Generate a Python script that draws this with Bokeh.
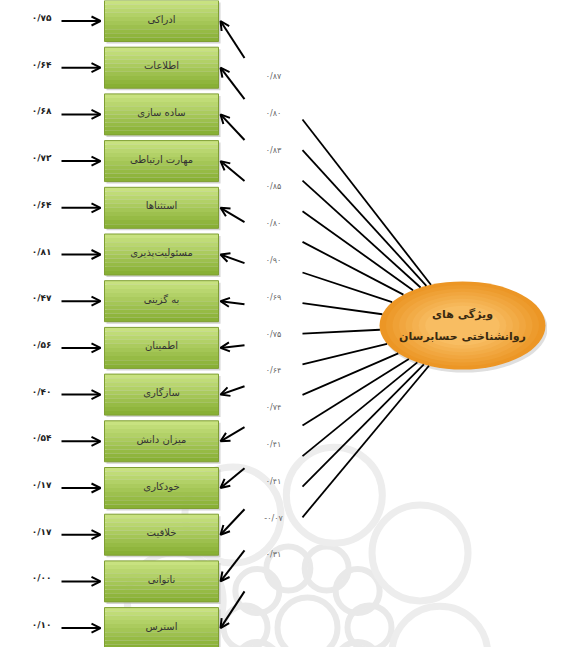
import numpy as np
from bokeh.plotting import figure
from bokeh.models import Range1d, Arrow, OpenHead, ColumnDataSource
from bokeh.core.properties import value
from bokeh.embed import file_html
from bokeh.resources import INLINE

# ---------------- data ----------------
indicators = ["ادراکی", "اطلاعات", "ساده سازی", "مهارت ارتباطی", "استثناها",
              "مسئولیت‌پذیری", "به گزینی", "اطمینان", "سازگاری", "میزان دانش",
              "خودکاری", "خلاقیت", "ناتوانی", "استرس"]
loadings = [0.87, 0.80, 0.83, 0.85, 0.80, 0.90, 0.69, 0.75, 0.64, 0.74,
            0.41, 0.41, -0.07, 0.31]
errors = [0.75, 0.64, 0.68, 0.72, 0.64, 0.81, 0.47, 0.56, 0.40, 0.54,
          0.17, 0.17, 0.00, 0.10]
latent_line1 = "ویژگی های"
latent_line2 = "روانشناختی حسابرسان"

FA = str.maketrans("0123456789", "۰۱۲۳۴۵۶۷۸۹")


def fa(v):
    s = f"{abs(v):.2f}".replace(".", "/").translate(FA)
    return ("-" if v < 0 else "") + s


n = len(indicators)
idx = np.arange(n)

# ---------------- layout ----------------
box_x0, box_x1 = 112, 226
box_top0, pitch, box_h = 8, 46.7, 41
box_top = box_top0 + idx * pitch
box_cy = box_top + box_h / 2

ex, ey, ew, eh = 470, 333, 166, 88  # latent ellipse
line_x = 310
line_y = 127 + idx * 30.6
lab_y = 84 + idx * 36.8
tail_x = 252

# anchor on ellipse toward centre
dx = line_x - ex
dy = line_y - ey
s = 1.0 / np.sqrt((dx / (ew / 2)) ** 2 + (dy / (eh / 2)) ** 2)
anc_x = ex + dx * s
anc_y = ey + dy * s

# short arrows aim from a focal point toward each box
focal_x, focal_y = 440, ey
tail_y = box_cy + (focal_y - box_cy) * (tail_x - box_x1) / (focal_x - box_x1)

p = figure(width=547, height=647, x_range=Range1d(8, 555), y_range=Range1d(655, 8),
           toolbar_location=None, output_backend="svg", min_border=0,
           background_fill_color="white", border_fill_color="white")
p.axis.visible = False
p.grid.visible = False
p.outline_line_color = None

# ---------------- watermark (pale rosette) ----------------
wc_x, wc_y = 315, 635
ang = np.linspace(0, 2 * np.pi, 10, endpoint=False)
p.circle(x=wc_x + 62 * np.cos(ang), y=wc_y + 62 * np.sin(ang), radius=22,
         fill_color=None, line_color="#e9e9e9", line_width=6)
ang2 = np.linspace(0, 2 * np.pi, 8, endpoint=False) + 0.2
p.circle(x=wc_x + 135 * np.cos(ang2), y=wc_y + 135 * np.sin(ang2), radius=48,
         fill_color=None, line_color="#ededed", line_width=7)
p.circle(x=[wc_x], y=[wc_y], radius=30, fill_color=None, line_color="#e9e9e9", line_width=6)

# ---------------- boxes with gradient ----------------
strips = 10
c_top = np.array([0xc8, 0xe2, 0x80])
c_bot = np.array([0x88, 0xb0, 0x35])
p.quad(left=box_x0 + 2, right=box_x1 + 2, top=box_top + 2, bottom=box_top + box_h + 2,
       fill_color="#b8b8b8", fill_alpha=0.6, line_color=None)
for k in range(strips):
    t = k / (strips - 1)
    c = (c_top * (1 - t) + c_bot * t).astype(int)
    col = "#%02x%02x%02x" % tuple(c)
    p.quad(left=box_x0, right=box_x1, top=box_top + box_h * k / strips,
           bottom=box_top + box_h * (k + 1) / strips, fill_color=col, line_color=None)
p.quad(left=box_x0, right=box_x1, top=box_top, bottom=box_top + box_h,
       fill_color=None, line_color="#7f9f33", line_width=1)

p.text(x=(box_x0 + box_x1) / 2, y=box_cy - 2, text=indicators, text_align="center",
       text_baseline="middle", text_font=value("DejaVu Sans"), text_font_size="10px",
       text_color="#333333")

# ---------------- latent ellipse ----------------
e_out = np.array([0xec, 0x96, 0x25])
e_in = np.array([0xf8, 0xbd, 0x62])
p.ellipse(x=ex + 2, y=ey + 3, width=ew, height=eh, fill_color="#c9c9c9",
          fill_alpha=0.6, line_color=None)
steps = 8
for k in range(steps):
    t = k / (steps - 1)
    c = (e_out * (1 - t) + e_in * t).astype(int)
    f = 1 - 0.55 * t
    p.ellipse(x=ex, y=ey, width=ew * f, height=eh * f,
              fill_color="#%02x%02x%02x" % tuple(c), line_color=None)
p.text(x=[ex], y=[ey - 11], text=[latent_line1], text_align="center", text_baseline="middle",
       text_font=value("DejaVu Sans"), text_font_size="11px", text_font_style="bold",
       text_color="#3a2a10")
p.text(x=[ex], y=[ey + 11], text=[latent_line2], text_align="center", text_baseline="middle",
       text_font=value("DejaVu Sans"), text_font_size="11px", text_font_style="bold",
       text_color="#3a2a10")

# ---------------- paths ----------------
p.segment(x0=line_x, y0=line_y, x1=anc_x, y1=anc_y, line_color="black", line_width=1.8)

arr_src = ColumnDataSource(dict(xs=np.full(n, tail_x, dtype=float), ys=tail_y,
                                xe=np.full(n, box_x1 + 2, dtype=float), ye=box_cy))
p.add_layout(Arrow(end=OpenHead(size=9, line_width=2, line_color="black"),
                   x_start="xs", y_start="ys", x_end="xe", y_end="ye",
                   source=arr_src, line_width=2, line_color="black"))

err_src = ColumnDataSource(dict(xs=np.full(n, 69.0), ys=box_cy,
                                xe=np.full(n, box_x0 - 4, dtype=float), ye=box_cy))
p.add_layout(Arrow(end=OpenHead(size=9, line_width=2, line_color="black"),
                   x_start="xs", y_start="ys", x_end="xe", y_end="ye",
                   source=err_src, line_width=2, line_color="black"))

# ---------------- numbers ----------------
p.text(x=np.full(n, 59.0), y=box_cy - 3, text=[fa(v) for v in errors], text_align="right",
       text_baseline="middle", text_font=value("DejaVu Sans"), text_font_size="9px",
       text_font_style="bold", text_color="#222222")
p.text(x=np.full(n, 281.0), y=lab_y, text=[fa(v) for v in loadings], text_align="center",
       text_baseline="middle", text_font=value("DejaVu Sans"), text_font_size="8px",
       text_color="#666666")

open("out.html", "w").write(file_html(p, INLINE))
